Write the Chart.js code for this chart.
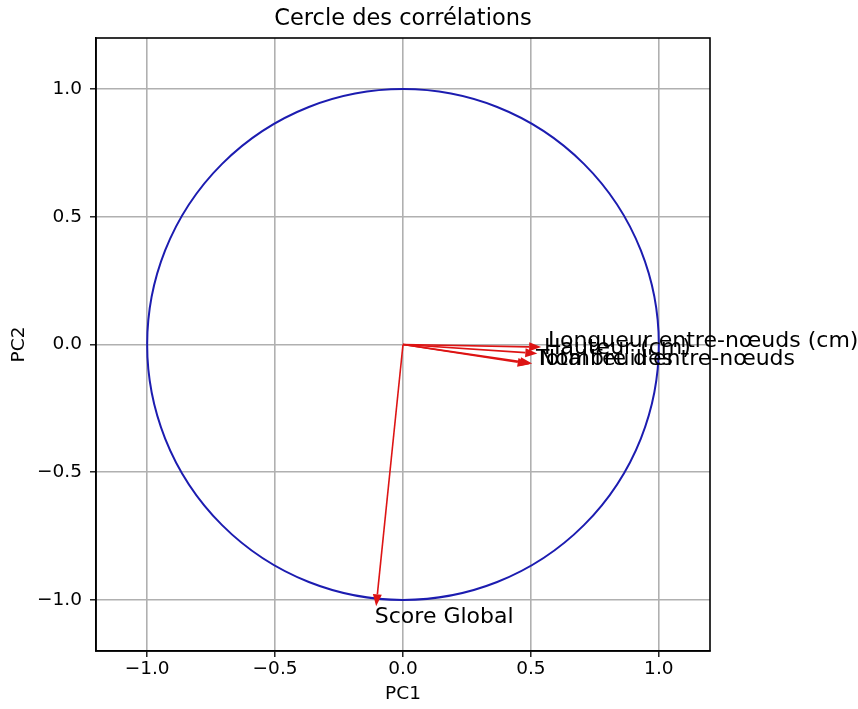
<!DOCTYPE html>
<html>
<head>
<meta charset="utf-8">
<title>Cercle des corrélations</title>
<script src="https://cdn.jsdelivr.net/npm/chart.js@4/dist/chart.umd.min.js"></script>
<style>
  html, body { margin: 0; padding: 0; background: #fff; }
  #wrap { width: 858px; height: 709px; }
</style>
</head>
<body>
<div id="wrap"><canvas id="c" width="858" height="709"></canvas></div>
<script>
// Variables projected on the first two principal components
const variables = [
  "Longueur entre-nœuds (cm)",
  "Hauteur (cm)",
  "Nombre d'entre-nœuds",
  "Total feuilles",
  "Score Global"
];
const pc1 = [0.540, 0.525, 0.505, 0.495, -0.105];
const pc2 = [-0.010, -0.035, -0.074, -0.077, -1.025];

// Axis ticks shared by both components
const tickValues = [-1.0, -0.5, 0.0, 0.5, 1.0];
const axisMin = -1.2;
const axisMax = 1.2;

const chartTitle = 'Cercle des corrélations';
const FONT = "'DejaVu Sans', 'Liberation Sans', sans-serif";
const fmt = v => (v < 0 ? '\u2212' : '') + Math.abs(v).toFixed(1);

// Frame, title, unit circle, arrows and variable names drawn through the chart scales
const circlePlugin = {
  id: 'correlationCircle',
  beforeDatasetsDraw(chart) {
    const { ctx, chartArea: a } = chart;
    ctx.save();
    ctx.strokeStyle = '#000';
    ctx.lineWidth = 1.6;
    ctx.strokeRect(a.left, a.top, a.right - a.left, a.bottom - a.top);
    ctx.fillStyle = '#000';
    ctx.font = '22.5px ' + FONT;
    ctx.textAlign = 'center';
    ctx.textBaseline = 'middle';
    ctx.fillText(chartTitle, (a.left + a.right) / 2, 19);
    ctx.restore();
  },
  afterDatasetsDraw(chart) {
    const { ctx } = chart;
    const xs = chart.scales.x, ys = chart.scales.y;
    const x0 = xs.getPixelForValue(0), y0 = ys.getPixelForValue(0);
    const rx = xs.getPixelForValue(1) - x0;
    const ry = y0 - ys.getPixelForValue(1);

    ctx.save();
    ctx.beginPath();
    ctx.ellipse(x0, y0, rx, ry, 0, 0, Math.PI * 2);
    ctx.strokeStyle = '#1c1cb0';
    ctx.lineWidth = 2;
    ctx.stroke();

    const pts = chart.data.datasets[0].data;
    const headLen = 12, headHalf = 4.5;
    ctx.strokeStyle = '#dd1414';
    ctx.fillStyle = '#dd1414';
    ctx.lineWidth = 1.6;
    pts.forEach(p => {
      const px = xs.getPixelForValue(p.x), py = ys.getPixelForValue(p.y);
      const dx = px - x0, dy = py - y0;
      const len = Math.hypot(dx, dy);
      const ux = dx / len, uy = dy / len;
      const bx = px - ux * headLen, by = py - uy * headLen;
      ctx.beginPath();
      ctx.moveTo(x0, y0);
      ctx.lineTo(bx, by);
      ctx.stroke();
      ctx.beginPath();
      ctx.moveTo(px, py);
      ctx.lineTo(bx - uy * headHalf, by + ux * headHalf);
      ctx.lineTo(bx + uy * headHalf, by - ux * headHalf);
      ctx.closePath();
      ctx.fill();
    });

    // Names placed just beyond each arrow tip
    ctx.fillStyle = '#000';
    ctx.font = '22px ' + FONT;
    ctx.textAlign = 'left';
    ctx.textBaseline = 'alphabetic';
    pts.forEach(p => {
      ctx.fillText(p.name, xs.getPixelForValue(p.x * 1.05), ys.getPixelForValue(p.y * 1.065));
    });
    ctx.restore();
  }
};

const points = variables.map((name, i) => ({ x: pc1[i], y: pc2[i], name }));

const axis = (title, titlePad, tickPad, fitKey, fitSize) => ({
  type: 'linear',
  min: axisMin,
  max: axisMax,
  afterBuildTicks: s => { s.ticks = tickValues.map(v => ({ value: v })); },
  afterFit: s => { s[fitKey] = fitSize; },
  grid: {
    color: '#b0b0b0',
    lineWidth: 1.6,
    tickColor: '#000',
    tickLength: 6,
    tickWidth: 1.3,
    drawTicks: true
  },
  border: { display: true, color: '#000', width: 1.6 },
  ticks: {
    color: '#000',
    font: { family: FONT, size: 18.5 },
    padding: tickPad,
    callback: v => fmt(v)
  },
  title: {
    display: true,
    text: title,
    color: '#000',
    font: { family: FONT, size: 18.5 },
    padding: titlePad
  }
});

new Chart(document.getElementById('c'), {
  type: 'scatter',
  data: {
    datasets: [{
      data: points,
      pointRadius: 0,
      pointHoverRadius: 0,
      showLine: false
    }]
  },
  options: {
    responsive: false,
    animation: false,
    devicePixelRatio: 1,
    layout: { padding: { left: 0, right: 148, top: 38, bottom: 0 } },
    plugins: {
      legend: { display: false },
      tooltip: { enabled: false },
      title: { display: false }
    },
    scales: {
      x: axis('PC1', { top: 0, bottom: 4 }, 1, 'height', 58),
      y: axis('PC2', { top: 8, bottom: 0 }, 8, 'width', 96)
    }
  },
  plugins: [circlePlugin]
});
</script>
</body>
</html>
